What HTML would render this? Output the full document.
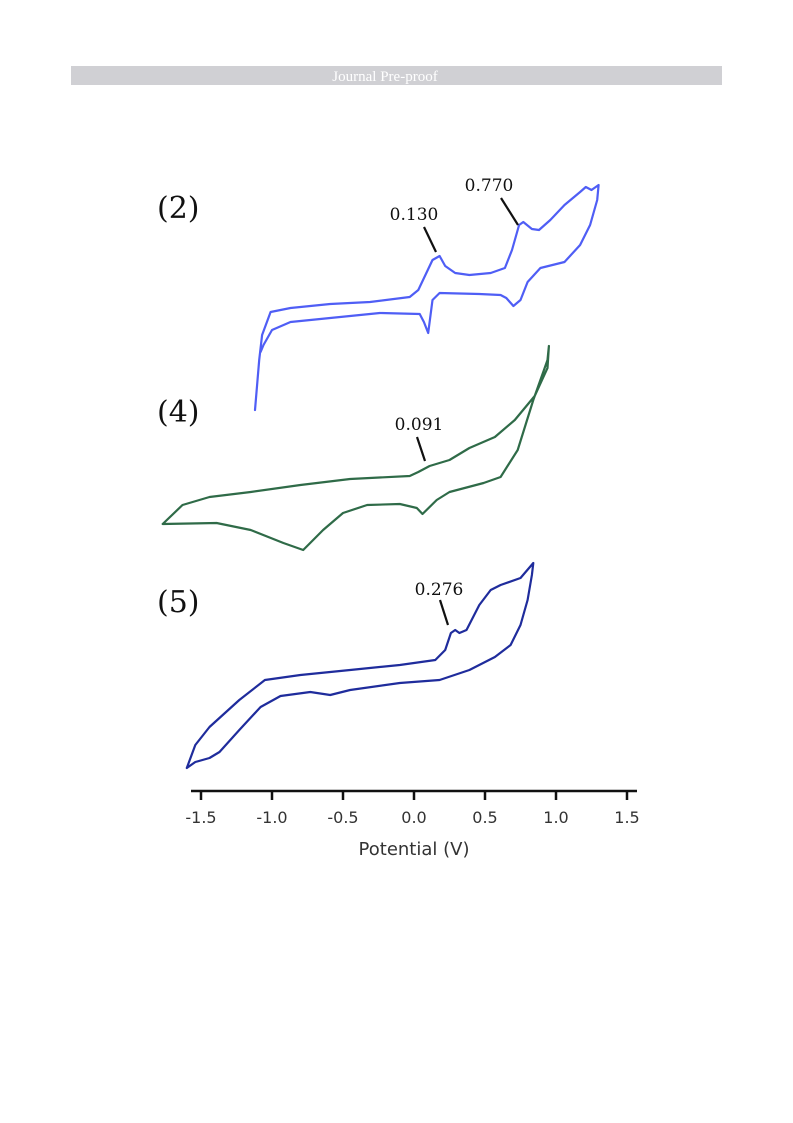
<!DOCTYPE html>
<html><head><meta charset="utf-8"><style>
body{margin:0;background:#fff;width:793px;height:1123px;overflow:hidden;}
svg{display:block}
</style></head><body>
<svg width="793" height="1123" viewBox="0 0 793 1123">
<rect x="71" y="66" width="651" height="19" fill="#d0d0d4"/>
<text x="385" y="81" text-anchor="middle" font-family="Liberation Serif, serif" font-size="15" fill="#fff">Journal Pre-proof</text>
<g id="plot"></g>
</svg>
<script>
const tickValues=[-1.5,-1.0,-0.5,0.0,0.5,1.0,1.5];
const tickLabels=["-1.5","-1.0","-0.5","0.0","0.5","1.0","1.5"];
// panel (2) potentials (V) and currents (arb.)
const e2=[-1.12,-1.09,-1.07,-1.01,-0.87,-0.59,-0.31,-0.03,0.03,0.08,0.13,0.18,0.22,0.29,0.39,0.54,0.64,0.69,0.74,0.77,0.83,0.88,0.96,1.06,1.17,1.21,1.25,1.30,1.29,1.24,1.17,1.06,0.89,0.80,0.75,0.70,0.65,0.61,0.46,0.18,0.13,0.10,0.07,0.04,-0.24,-0.59,-0.87,-1.00,-1.06,-1.08];
const i2=[10,60,85,108,112,116,118,123,130,145,160,164,154,147,145,147,152,170,195,198,191,190,200,215,228,233,230,235,220,195,175,158,152,138,120,114,122,125,126,127,120,87,98,106,107,102,98,90,75,68];
// panel (4)
const e4=[-1.77,-1.63,-1.44,-1.15,-0.80,-0.45,-0.03,0.03,0.11,0.25,0.39,0.57,0.71,0.85,0.94,0.95,0.94,0.84,0.73,0.61,0.49,0.25,0.16,0.06,0.02,-0.10,-0.33,-0.50,-0.64,-0.78,-0.92,-1.15,-1.39,-1.77];
const i4=[36,55,63,68,75,81,84,88,94,100,112,123,140,164,192,214,200,160,110,83,77,68,60,46,52,56,55,47,30,10,17,30,37,36];
// panel (5)
const e5=[-1.60,-1.54,-1.44,-1.23,-1.05,-0.80,-0.45,-0.10,0.15,0.22,0.26,0.29,0.32,0.37,0.46,0.54,0.61,0.75,0.84,0.83,0.80,0.75,0.68,0.57,0.39,0.18,-0.10,-0.45,-0.59,-0.73,-0.94,-1.08,-1.23,-1.37,-1.44,-1.54,-1.60];
const i5=[12,35,53,80,100,105,110,115,120,130,147,150,147,150,175,190,195,202,217,205,180,155,135,123,110,100,97,90,85,88,84,73,50,28,22,18,12];
const annotations=["0.130","0.770","0.091","0.276"];
const panelLabels=["(2)","(4)","(5)"];

const NS="http://www.w3.org/2000/svg";
const plot=document.getElementById('plot');
const X0=414,KX=142;
function xScale(v){return X0+KX*v;}
function mk(tag,attrs){const el=document.createElementNS(NS,tag);for(const k in attrs)el.setAttribute(k,attrs[k]);plot.appendChild(el);return el;}
function yScale(base){return function(v){return base-v;};}
function drawCurve(es,is,base,color,name){
  const ys=yScale(base);
  const pts=es.map((e,k)=>xScale(e).toFixed(1)+","+ys(is[k]).toFixed(1)).join(" ");
  const p=mk('polyline',{points:pts,fill:'none',stroke:color,'stroke-width':2.2,'stroke-linejoin':'round','stroke-linecap':'round'});
  
  
}
drawCurve(e2,i2,420,'#4f5ef5','cv-curve-2');
drawCurve(e4,i4,560,'#2f6b48','cv-curve-4');
drawCurve(e5,i5,780,'#1f2c9c','cv-curve-5');

// axis
const ax=mk('line',{x1:191,y1:791,x2:637,y2:791,stroke:'#111','stroke-width':2.5});


tickValues.forEach((v,k)=>{
  const t=mk('line',{x1:xScale(v),y1:791,x2:xScale(v),y2:800,stroke:'#111','stroke-width':2.5});
  
  
  const l=mk('text',{x:xScale(v),y:823,'text-anchor':'middle','font-family':'DejaVu Sans, sans-serif','font-size':16,fill:'#333'});
  l.textContent=tickLabels[k];
  
  
});
const xt=mk('text',{x:414,y:855,'text-anchor':'middle','font-family':'DejaVu Sans, sans-serif','font-size':18,fill:'#333'});
xt.textContent='Potential (V)';



// panel labels
[[157,218],[157,422],[157,612]].forEach((p,k)=>{
  const t=mk('text',{x:p[0],y:p[1],'font-family':'DejaVu Serif, serif','font-size':30,fill:'#111'});
  t.textContent=panelLabels[k];
  
  
});
// annotations
const anPos=[[414,220,424,227,436,252],[489,191,501,198,518,225],[419,430,417,437,425,461],[439,595,440,600,448,625]];
anPos.forEach((a,k)=>{
  const t=mk('text',{x:a[0],y:a[1],'text-anchor':'middle','font-family':'DejaVu Serif, serif','font-size':17,fill:'#111'});
  t.textContent=annotations[k];
  
  
  const l=mk('line',{x1:a[2],y1:a[3],x2:a[4],y2:a[5],stroke:'#111','stroke-width':2.2});
  
  
});
</script>
</body></html>
